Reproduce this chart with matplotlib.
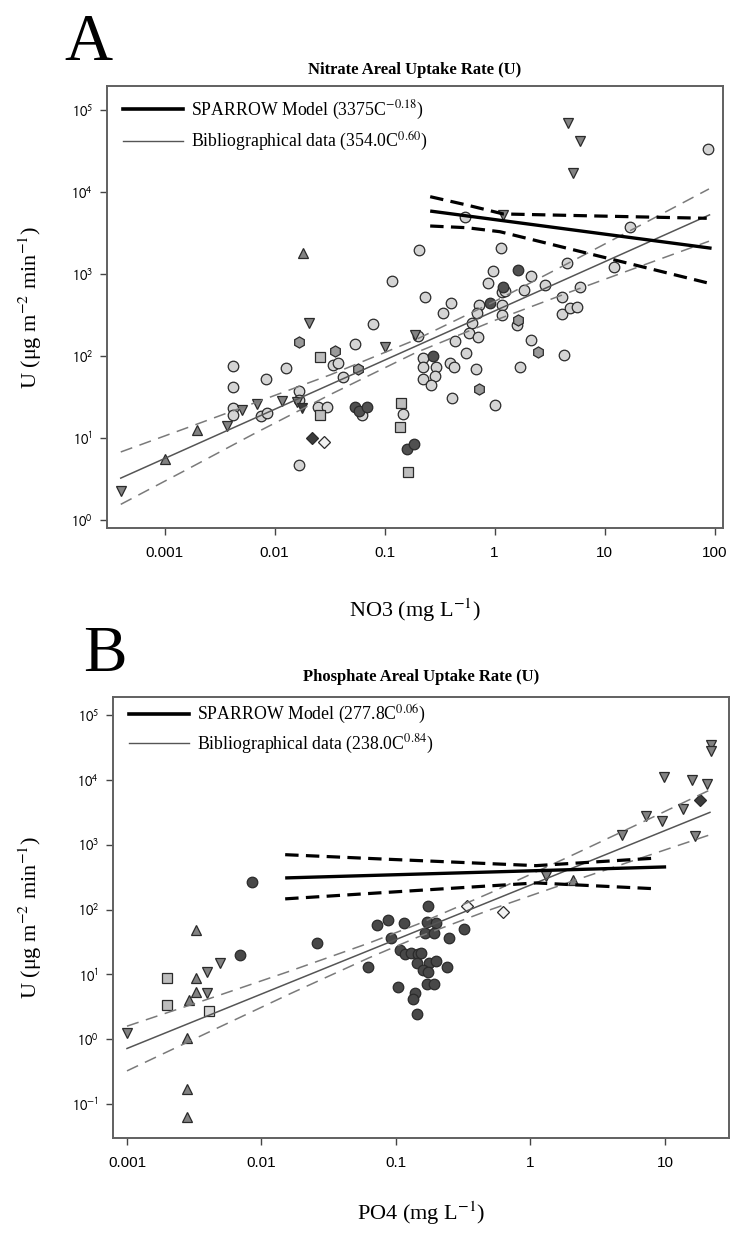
import matplotlib
matplotlib.use('Agg')
import matplotlib.pyplot as plt
from matplotlib.ticker import NullLocator
from matplotlib.lines import Line2D

plt.rcParams['mathtext.fontset'] = 'stix'
SERIF = ['Liberation Serif', 'DejaVu Serif']
SANS = ['Liberation Sans', 'DejaVu Sans']

# ---------------- Panel A: nitrate ----------------
a_circ_x = [0.0042, 0.0042, 0.0042, 0.0042, 0.0075, 0.0085, 0.0084, 0.0127, 0.0168, 0.0168, 0.0168,
            0.025, 0.030, 0.0338, 0.038, 0.0423, 0.054, 0.0628, 0.079, 0.146, 0.203, 0.207, 0.117,
            0.233, 0.40, 0.343, 0.72, 0.69, 0.63, 0.59, 0.71, 0.44, 0.55, 0.225, 0.222, 0.294, 0.225,
            0.288, 0.263, 0.394, 0.43, 0.68, 0.41, 1.0, 0.54, 17.1, 1.15, 4.6, 12.3, 0.975, 2.13,
            0.867, 1.16, 1.245, 1.87, 2.9, 6.0, 1.16, 1.18, 4.14, 4.11, 4.85, 5.58, 1.59, 2.15, 4.29,
            1.7, 88]
a_circ_y = [76, 41.5, 23, 19, 18.5, 20, 52, 72, 37.8, 29, 4.7,
            23.7, 23.7, 77.6, 81, 56, 140, 19, 245, 19.6, 175, 1960, 830,
            530, 447, 331, 419, 337, 255, 192, 172, 154, 110, 94, 74, 74, 52,
            57, 44, 81.5, 74, 69, 30.5, 25, 5000, 3780, 2090, 1350, 1230, 1090, 946,
            783, 608, 627, 638, 735, 687, 419, 316, 520, 325, 382, 393, 239, 157, 103,
            74, 33100]
a_dcirc_x = [0.054, 0.058, 0.0698, 0.159, 0.185, 0.91, 0.278, 1.63, 1.2]
a_dcirc_y = [24.1, 21.3, 23.7, 7.3, 8.45, 440, 100, 1120, 687]
a_tup_x = [0.001, 0.00196, 0.0183]
a_tup_y = [5.5, 12.5, 1790]
a_tdn_x = [0.0004, 0.00367, 0.00504, 0.00689, 0.0116, 0.0159, 0.0207, 0.1, 0.19, 1.19, 4.69, 5.98, 5.14]
a_tdn_y = [2.28, 14, 21.9, 25.7, 28.2, 27.7, 250, 128, 180, 5250, 70000, 41900, 17200]
a_dtdn_x = [0.0177]
a_dtdn_y = [23]
a_hex_x = [0.0167, 0.0355, 0.057, 0.718, 1.63, 2.5]
a_hex_y = [150, 116, 69, 39.3, 275, 113]
a_sq_x = [0.026, 0.026, 0.14, 0.138, 0.164]
a_sq_y = [98, 19, 27, 13.5, 3.9]
a_ddia_x = [0.0218]
a_ddia_y = [10.1]
a_wdia_x = [0.0284]
a_wdia_y = [8.85]

a_sp_x = [0.26, 94]
a_sp_y = [5860, 2060]
a_sp_up_x = [0.26, 0.56, 1.2, 9.1, 85]
a_sp_up_y = [8770, 6940, 5400, 5090, 4780]
a_sp_lo_x = [0.26, 0.56, 1.12, 3.0, 85]
a_sp_lo_y = [3850, 3670, 3280, 2370, 783]
a_bib_x = [0.0004, 90]
a_bib_y = [3.24, 5260]
a_band_x = [0.0004, 0.0016, 0.0063, 0.032, 0.19, 1.0, 5.0, 22.4, 89]
a_band_up = [6.75, 13.3, 26.2, 58.8, 157, 462, 1418, 4088, 10900]
a_band_lo = [1.55, 4.13, 11.0, 33.8, 109, 271, 612, 1278, 2510]

# ---------------- Panel B: phosphate ----------------
b_tdn_x = [0.001, 0.00392, 0.00392, 0.0049, 1.3, 4.76, 7.23, 9.44, 13.6, 16.7, 9.84, 16, 20.7, 22, 22]
b_tdn_y = [1.24, 10.9, 5.2, 15.1, 326, 1430, 2730, 2280, 3540, 1340, 11200, 9770, 8670, 34500, 27900]
b_tup_x = [0.00326, 0.00326, 0.00326, 0.00289, 0.00278, 0.00278, 0.00278, 2.06]
b_tup_y = [48, 8.9, 5.35, 4.0, 1.04, 0.17, 0.064, 282]
b_sq_x = [0.002, 0.002]
b_sq_y = [8.9, 3.37]
b_lsq_x = [0.00407]
b_lsq_y = [2.7]
b_dcirc_x = [0.0069, 0.00855, 0.0257, 0.0622, 0.0726, 0.0877, 0.0918, 0.115, 0.104, 0.108, 0.117,
             0.1285, 0.1466, 0.1426, 0.138, 0.133, 0.1426, 0.172, 0.169, 0.198, 0.164, 0.193, 0.249,
             0.322, 0.153, 0.177, 0.198, 0.158, 0.174, 0.24, 0.171, 0.192]
b_dcirc_y = [19.6, 263, 30.7, 13, 58.7, 68.5, 35.8, 62.4, 6.46, 23.7, 20.3,
             21, 20.3, 14.8, 5.2, 4.1, 2.43, 112, 63.8, 61, 43.8, 42.8, 36.6,
             50.5, 21, 14.8, 16, 11.7, 10.9, 13.1, 7.2, 7.0]
b_ddia_x = [18.2]
b_ddia_y = [4920]
b_wdia_x = [0.339, 0.621]
b_wdia_y = [112, 92]

b_sp_x = [0.015, 10.2]
b_sp_y = [307, 454]
b_sp_bx = [0.015, 0.076, 1.1, 8.9]
b_sp_up = [701, 603, 475, 624]
b_sp_lo = [146, 181, 257, 208]
b_bib_x = [0.001, 21.6]
b_bib_y = [0.72, 3150]
b_band_x = [0.001, 0.004, 0.0158, 0.063, 0.146, 0.5, 2.0, 7.1, 21.6]
b_band_up = [1.59, 4.16, 11.0, 30.4, 59.7, 180, 674, 2325, 6975]
b_band_lo = [0.325, 1.27, 4.87, 18.0, 37.7, 99, 269, 654, 1421]

# ---------------- styles ----------------
EC = '#2a2a2a'
C_LIGHT = '#d4d4d4'
C_DARK = '#505050'
C_TRI = '#828282'
C_HEX = '#9a9a9a'
C_SQ = '#bdbdbd'
C_DDIA = '#3c3c3c'
C_WDIA = '#f2f2f2'

fig = plt.figure(figsize=(7.53, 12.34), dpi=100)
axA = fig.add_axes([107 / 753, 1 - 528 / 1234, 616 / 753, 442 / 1234])
axB = fig.add_axes([113 / 753, 1 - 1138 / 1234, 616 / 753, 441 / 1234])


def pts(ax, x, y, marker, fc, ms):
    ax.plot(x, y, linestyle='none', marker=marker, markerfacecolor=fc,
            markeredgecolor=EC, markeredgewidth=0.9, markersize=ms, zorder=2)


def lines(ax, sx, sy, sux, suy, slx, sly, bx, by, bbx, bbu, bbl, lab1, lab2, ytop, spacing):
    ax.plot(sx, sy, color='black', lw=2.4, zorder=4, solid_capstyle='butt')
    ax.plot(sux, suy, color='black', lw=2.3, dashes=(4.2, 2.3), zorder=4)
    ax.plot(slx, sly, color='black', lw=2.3, dashes=(4.2, 2.3), zorder=4)
    ax.plot(bx, by, color='#555555', lw=1.1, zorder=3)
    ax.plot(bbx, bbu, color='#7a7a7a', lw=1.1, dashes=(8, 5), zorder=3)
    ax.plot(bbx, bbl, color='#7a7a7a', lw=1.1, dashes=(8, 5), zorder=3)
    h1l = Line2D([], [], color='black', lw=2.6)
    h2l = Line2D([], [], color='#555555', lw=1.0)
    ax.legend([h1l, h2l], [lab1, lab2], loc='upper left', bbox_to_anchor=(0.0, ytop),
              frameon=False, handlelength=3.4, handletextpad=0.4, labelspacing=spacing,
              prop={'family': SERIF, 'size': 12.8})


def style(ax, xlim, ylim, xt, xl, yexp):
    ax.set_xscale('log')
    ax.set_yscale('log')
    ax.set_xlim(*xlim)
    ax.set_ylim(*ylim)
    ax.set_xticks(xt)
    ax.set_xticklabels(xl, fontfamily=SANS, fontsize=11)
    ax.set_yticks([10.0 ** e for e in yexp])
    ax.set_yticklabels(['$10^{%d}$' % e for e in yexp], fontsize=10.5, math_fontfamily='stixsans')
    ax.xaxis.set_minor_locator(NullLocator())
    ax.yaxis.set_minor_locator(NullLocator())
    ax.tick_params(axis='both', direction='out', length=5, width=1.0, color='#444444')
    ax.tick_params(axis='x', pad=8)
    ax.tick_params(axis='y', pad=5)
    for s in ax.spines.values():
        s.set_color('#606060')
        s.set_linewidth(1.4)


# Panel A
pts(axA, a_circ_x, a_circ_y, 'o', C_LIGHT, 7.6)
pts(axA, a_dcirc_x, a_dcirc_y, 'o', C_DARK, 7.6)
pts(axA, a_tup_x, a_tup_y, '^', C_TRI, 7.8)
pts(axA, a_tdn_x, a_tdn_y, 'v', C_TRI, 7.8)
pts(axA, a_dtdn_x, a_dtdn_y, 'v', C_DDIA, 7.8)
pts(axA, a_hex_x, a_hex_y, 'h', C_HEX, 8.0)
pts(axA, a_sq_x, a_sq_y, 's', C_SQ, 7.0)
pts(axA, a_ddia_x, a_ddia_y, 'D', C_DDIA, 6.6)
pts(axA, a_wdia_x, a_wdia_y, 'D', C_WDIA, 6.6)
lines(axA, a_sp_x, a_sp_y, a_sp_up_x, a_sp_up_y, a_sp_lo_x, a_sp_lo_y,
      a_bib_x, a_bib_y, a_band_x, a_band_up, a_band_lo,
      'SPARROW Model (3375C$^{-0.18}$)', 'Bibliographical data (354.0C$^{0.60}$)', 1.008, 0.48)
style(axA, (10 ** -3.523, 10 ** 2.077), (10 ** -0.098, 10 ** 5.293),
      [0.001, 0.01, 0.1, 1, 10, 100], ['0.001', '0.01', '0.1', '1', '10', '100'], range(0, 6))

# Panel B
pts(axB, b_dcirc_x, b_dcirc_y, 'o', '#484848', 7.6)
pts(axB, b_tdn_x, b_tdn_y, 'v', C_TRI, 7.8)
pts(axB, b_tup_x, b_tup_y, '^', C_TRI, 7.8)
pts(axB, b_sq_x, b_sq_y, 's', C_SQ, 7.0)
pts(axB, b_lsq_x, b_lsq_y, 's', '#d8d8d8', 7.0)
pts(axB, b_ddia_x, b_ddia_y, 'D', C_DDIA, 6.6)
pts(axB, b_wdia_x, b_wdia_y, 'D', C_WDIA, 6.6)
lines(axB, b_sp_x, b_sp_y, b_sp_bx, b_sp_up, b_sp_bx, b_sp_lo,
      b_bib_x, b_bib_y, b_band_x, b_band_up, b_band_lo,
      'SPARROW Model (277.8C$^{0.06}$)', 'Bibliographical data (238.0C$^{0.84}$)', 1.022, 0.36)
style(axB, (10 ** -3.104, 10 ** 1.476), (10 ** -1.523, 10 ** 5.277),
      [0.001, 0.01, 0.1, 1, 10], ['0.001', '0.01', '0.1', '1', '10'], range(-1, 6))

# Text
fig.text(88 / 753, 1 - 43 / 1234, 'A', fontsize=48, family=SERIF, ha='center', va='center')
fig.text(105 / 753, 1 - 655 / 1234, 'B', fontsize=47, family=SERIF, ha='center', va='center')
fig.text(415 / 753, 1 - 70 / 1234, 'Nitrate Areal Uptake Rate (U)', fontsize=12, family=SERIF,
         fontweight='bold', ha='center', va='center')
fig.text(421 / 753, 1 - 677 / 1234, 'Phosphate Areal Uptake Rate (U)', fontsize=12, family=SERIF,
         fontweight='bold', ha='center', va='center')
fig.text(30 / 753, 1 - 307 / 1234, 'U (\u03bcg m$^{-2}$ min$^{-1}$)', fontsize=16, family=SERIF,
         rotation=90, ha='center', va='center')
fig.text(30 / 753, 1 - 917 / 1234, 'U (\u03bcg m$^{-2}$ min$^{-1}$)', fontsize=16, family=SERIF,
         rotation=90, ha='center', va='center')
fig.text(415 / 753, 1 - 610 / 1234, 'NO3 (mg L$^{-1}$)', fontsize=16, family=SERIF,
         ha='center', va='center')
fig.text(421 / 753, 1 - 1213 / 1234, 'PO4 (mg L$^{-1}$)', fontsize=16, family=SERIF,
         ha='center', va='center')

fig.savefig('out.png', dpi=100, facecolor='white')
